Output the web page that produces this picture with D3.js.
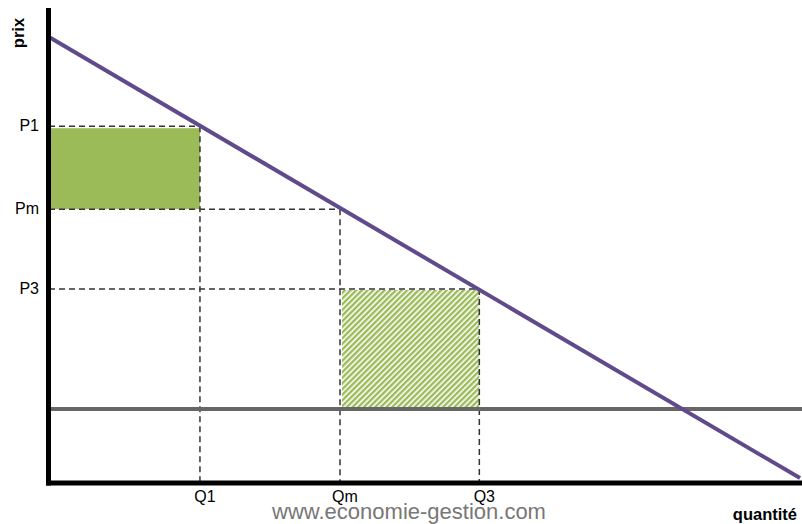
<!DOCTYPE html>
<html>
<head>
<meta charset="utf-8">
<script src="https://cdn.jsdelivr.net/npm/d3@7"></script>
<style>
  html, body { margin: 0; padding: 0; background: #fff; }
  text { font-family: "Liberation Sans", Arial, sans-serif; }
</style>
</head>
<body>
<div id="chart"></div>
<script>
// monopole : demande, coût marginal constant, surplus
const priceLabels = ["P1", "Pm", "P3"];
const priceValues = [80, 61.4, 43.5];
const quantityLabels = ["Q1", "Qm", "Q3"];
const quantityValues = [20.1, 38.75, 57.3];
const demand = [[0, 100], [100, 1.1]];
const costLevel = 16.6;

const width = 802, height = 524;
const svg = d3.select('#chart')
  .append('svg')
  .attr('width', width)
  .attr('height', height);

const x = d3.scaleLinear().domain([0, 100]).range([49, 800]);
const y = d3.scaleLinear().domain([0, 100]).range([483, 37]);

const green = '#9bbb59';

// hatch pattern
const defs = svg.append('defs');
const pat = defs.append('pattern')
  .attr('id', 'hatch')
  .attr('patternUnits', 'userSpaceOnUse')
  .attr('width', 4).attr('height', 4)
  .attr('patternTransform', 'rotate(45)');
pat.append('rect').attr('width', 4).attr('height', 4).attr('fill', '#fff');
pat.append('rect').attr('width', 2.4).attr('height', 4).attr('fill', green);

// green area (P1 -> Pm, 0 -> Q1)
svg.append('rect')
  .attr('x', x(0) + 2)
  .attr('y', y(priceValues[0]) + 2)
  .attr('width', x(quantityValues[0]) - x(0) - 2)
  .attr('height', y(priceValues[1]) - y(priceValues[0]) - 2)
  .attr('fill', green);

// hatched area (cost -> P3, Qm -> Q3)
svg.append('rect')
  .attr('x', x(quantityValues[1]) + 2)
  .attr('y', y(priceValues[2]) + 1)
  .attr('width', x(quantityValues[2]) - x(quantityValues[1]) - 2)
  .attr('height', y(costLevel) - y(priceValues[2]) - 2)
  .attr('fill', 'url(#hatch)');

// dashed guides
const guides = priceValues.map((p, i) => ({ p, q: quantityValues[i] }));
svg.selectAll('line.h')
  .data(guides)
  .enter()
  .append('line')
  .attr('class', 'h')
  .attr('x1', x(0)).attr('x2', d => x(d.q))
  .attr('y1', d => y(d.p)).attr('y2', d => y(d.p))
  .attr('stroke', '#333').attr('stroke-width', 1.5)
  .attr('stroke-dasharray', '6,4');
svg.selectAll('line.v')
  .data(guides)
  .enter()
  .append('line')
  .attr('class', 'v')
  .attr('x1', d => x(d.q)).attr('x2', d => x(d.q))
  .attr('y1', d => y(d.p)).attr('y2', y(0))
  .attr('stroke', '#333').attr('stroke-width', 1.5)
  .attr('stroke-dasharray', '6,4');

// cost line
svg.append('line')
  .attr('x1', x(0)).attr('x2', width)
  .attr('y1', y(costLevel)).attr('y2', y(costLevel))
  .attr('stroke', '#666').attr('stroke-width', 4);

// demand line
svg.append('path')
  .datum(demand)
  .attr('d', d3.line().x(d => x(d[0])).y(d => y(d[1])))
  .attr('fill', 'none')
  .attr('stroke', '#5f4b8b')
  .attr('stroke-width', 4);

// axes
svg.append('line')
  .attr('x1', 48.5).attr('x2', 48.5)
  .attr('y1', 8).attr('y2', 485.5)
  .attr('stroke', '#000').attr('stroke-width', 5);
svg.append('line')
  .attr('x1', 46).attr('x2', width)
  .attr('y1', 483).attr('y2', 483)
  .attr('stroke', '#000').attr('stroke-width', 5);

// labels
svg.selectAll('text.p')
  .data(priceLabels)
  .enter()
  .append('text')
  .attr('class', 'p')
  .attr('x', 39)
  .attr('y', (d, i) => y(priceValues[i]) + 5)
  .attr('text-anchor', 'end')
  .attr('font-size', 16)
  .text(d => d);

svg.selectAll('text.q')
  .data(quantityLabels)
  .enter()
  .append('text')
  .attr('class', 'q')
  .attr('x', (d, i) => x(quantityValues[i]) + 5)
  .attr('y', 502)
  .attr('text-anchor', 'middle')
  .attr('font-size', 16)
  .text(d => d);

svg.append('text')
  .attr('transform', 'translate(24,33) rotate(-90)')
  .attr('text-anchor', 'middle')
  .attr('font-size', 16.5)
  .attr('font-weight', 'bold')
  .text('prix');

svg.append('text')
  .attr('x', 797).attr('y', 520)
  .attr('text-anchor', 'end')
  .attr('font-size', 16.5)
  .attr('font-weight', 'bold')
  .text('quantité');

svg.append('text')
  .attr('x', 409).attr('y', 519)
  .attr('text-anchor', 'middle')
  .attr('font-size', 22)
  .attr('fill', '#777')
  .text('www.economie-gestion.com');
</script>
</body>
</html>
